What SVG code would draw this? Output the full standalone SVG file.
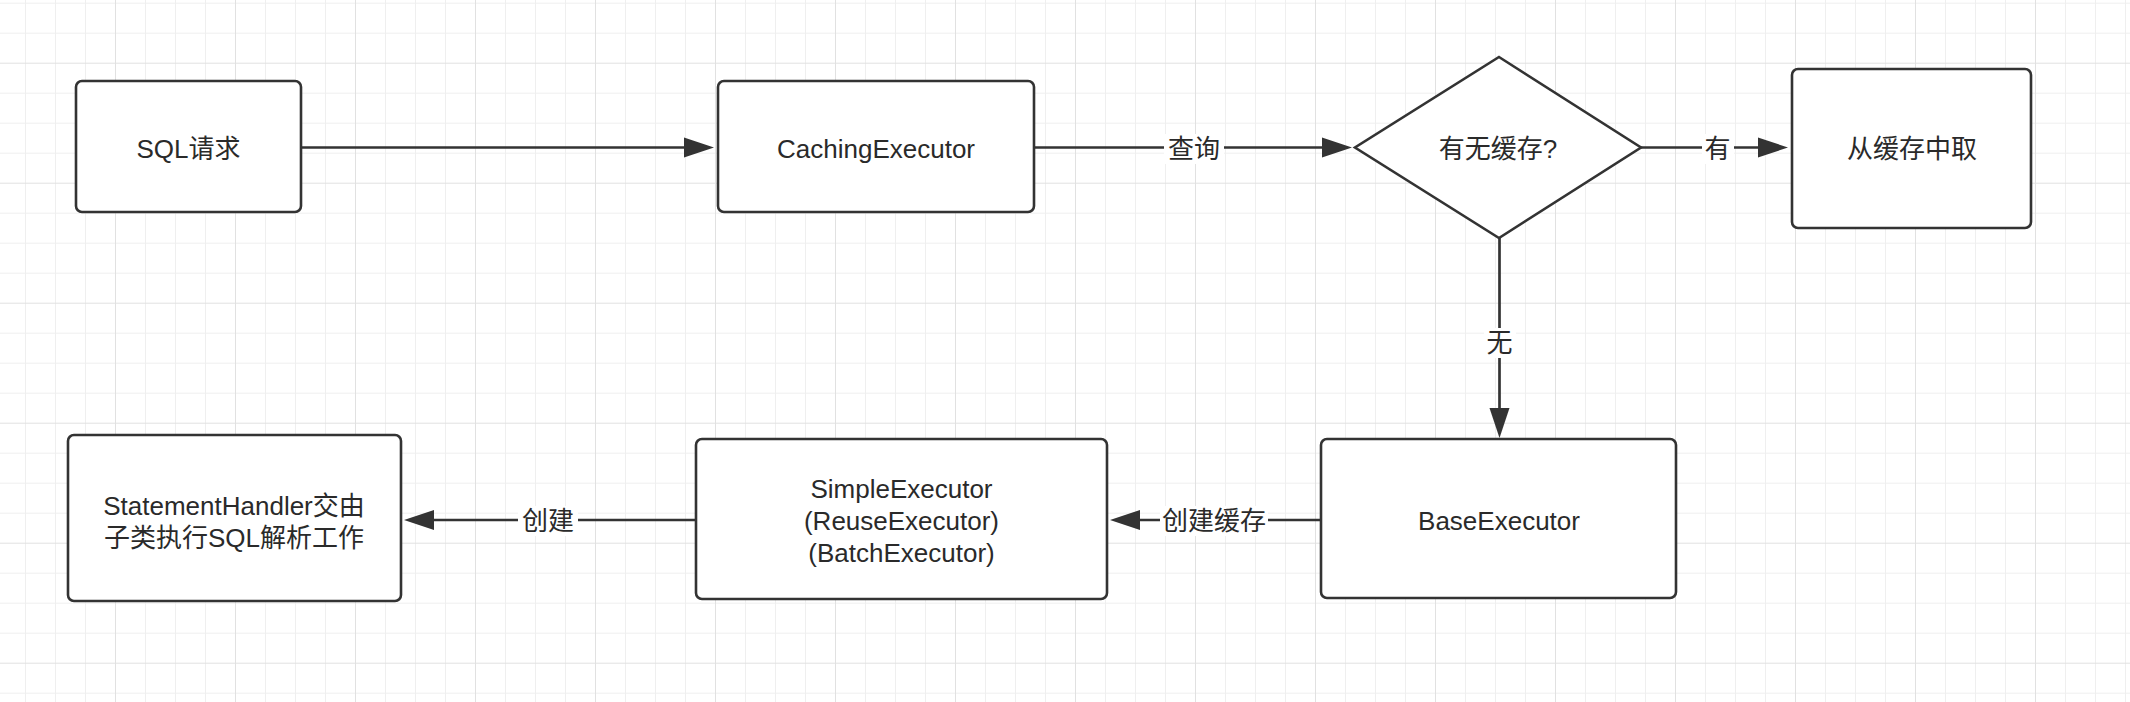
<svg xmlns="http://www.w3.org/2000/svg" width="2130" height="702" viewBox="0 0 2130 702">
<style>
.box{fill:#fff;stroke:#333;stroke-width:2.6}
.t{font-family:"Liberation Sans","Noto Sans CJK SC",sans-serif;font-size:26px;fill:#2a2a2a;text-anchor:middle;dominant-baseline:central}
.edge{fill:none;stroke:#333;stroke-width:2.7;marker-end:url(#arr)}
.lbg{fill:#fff}
</style>
<defs>
<pattern id="grid" patternUnits="userSpaceOnUse" x="-5" y="-57.3" width="120" height="120">
<rect width="120" height="120" fill="#fff"/>
<g fill="#efefef">
<rect x="30" y="0" width="1" height="120"/><rect x="60" y="0" width="1" height="120"/><rect x="90" y="0" width="1" height="120"/>
<rect x="0" y="30" width="120" height="1"/><rect x="0" y="60" width="120" height="1"/><rect x="0" y="90" width="120" height="1"/>
</g>
<g fill="#e1e1e1">
<rect x="0" y="0" width="1" height="120"/><rect x="0" y="0" width="120" height="1"/>
</g>
</pattern>
<marker id="arr" markerUnits="userSpaceOnUse" markerWidth="32" markerHeight="22" viewBox="0 0 32 22" refX="16" refY="11" orient="auto">
<path d="M1,1 L31,11 L1,21 z" fill="#333"/>
</marker>
</defs>
<rect width="2130" height="702" fill="url(#grid)"/>

<g id="connectors">
<path class="edge" d="M301,147.5 H699"/>
<path class="edge" d="M1034,147.5 H1337"/>
<path class="edge" d="M1641,147.5 H1773"/>
<path class="edge" d="M1499.5,238 V423"/>
<path class="edge" d="M1321,520 H1125"/>
<path class="edge" d="M696,520 H419"/>
<rect class="lbg" x="1164" y="134" width="60" height="30"/>
<text class="t" x="1194" y="149">查询</text>
<rect class="lbg" x="1702" y="134" width="32" height="30"/>
<text class="t" x="1717.5" y="149">有</text>
<rect class="lbg" x="1484" y="328" width="32" height="30"/>
<text class="t" x="1499.5" y="343">无</text>
<rect class="lbg" x="1160" y="506" width="108" height="30"/>
<text class="t" x="1214" y="521">创建缓存</text>
<rect class="lbg" x="518" y="506" width="60" height="30"/>
<text class="t" x="548" y="521">创建</text>
</g>

<g id="sql">
<rect class="box" x="76" y="81" width="225" height="131" rx="6"/>
<text class="t" x="188.5" y="149">SQL请求</text>
</g>
<g id="caching">
<rect class="box" x="718" y="81" width="316" height="131" rx="6"/>
<text class="t" x="876" y="149">CachingExecutor</text>
</g>
<g id="decision">
<polygon class="box" points="1499,57 1641,147.5 1499,238 1355,147.5"/>
<text class="t" x="1498" y="149">有无缓存?</text>
</g>
<g id="fromcache">
<rect class="box" x="1792" y="69" width="239" height="159" rx="6"/>
<text class="t" x="1912" y="149">从缓存中取</text>
</g>
<g id="base">
<rect class="box" x="1321" y="439" width="355" height="159" rx="6"/>
<text class="t" x="1499" y="521">BaseExecutor</text>
</g>
<g id="simple">
<rect class="box" x="696" y="439" width="411" height="160" rx="6"/>
<text class="t" x="901.5" y="489">SimpleExecutor</text>
<text class="t" x="901.5" y="521">(ReuseExecutor)</text>
<text class="t" x="901.5" y="553">(BatchExecutor)</text>
</g>
<g id="handler">
<rect class="box" x="68" y="435" width="333" height="166" rx="6"/>
<text class="t" x="234" y="506">StatementHandler交由</text>
<text class="t" x="234" y="538">子类执行SQL解析工作</text>
</g>
</svg>
